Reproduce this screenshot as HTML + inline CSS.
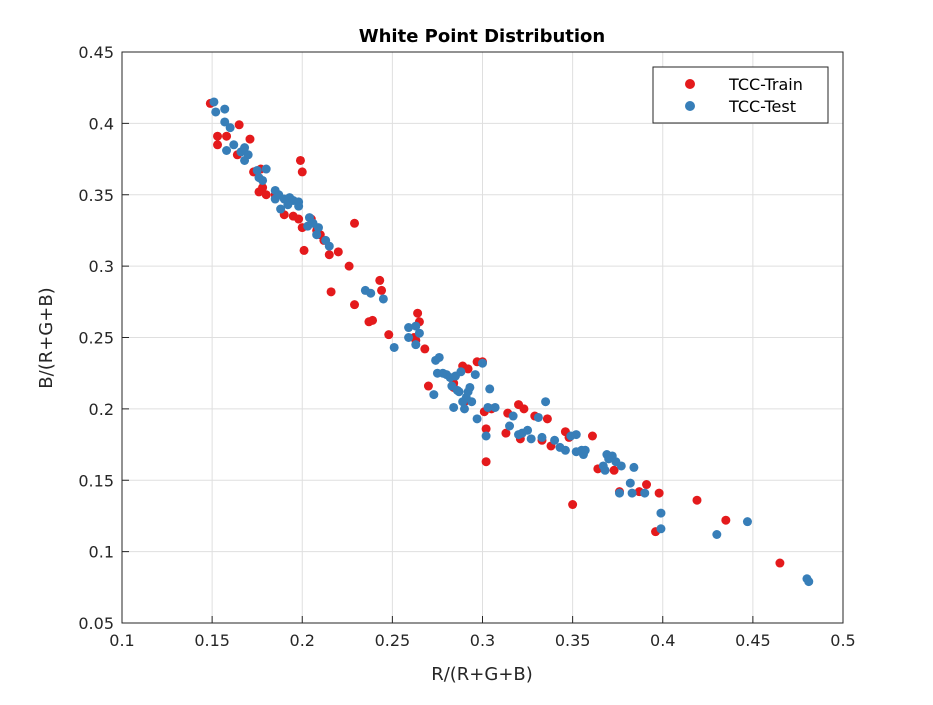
<!DOCTYPE html>
<html><head><meta charset="utf-8"><style>
body{margin:0;background:#fff;}
svg text{font-family:"DejaVu Sans","Liberation Sans",sans-serif;}
</style></head><body>
<svg id="chart" width="933" height="700" xmlns="http://www.w3.org/2000/svg">
<rect width="933" height="700" fill="#fff"/>
<g id="grid"></g>
<g id="marks"></g>
<rect x="122" y="52" width="721" height="571" fill="none" stroke="#262626" stroke-width="1"/>
<g id="ticks"></g>
<text x="482" y="42" text-anchor="middle" font-size="18" font-weight="bold" fill="#000">White Point Distribution</text>
<text x="482" y="680" text-anchor="middle" font-size="18" fill="#262626">R/(R+G+B)</text>
<text transform="translate(52,338) rotate(-90)" text-anchor="middle" font-size="18" fill="#262626">B/(R+G+B)</text>
<g>
<rect x="653" y="67" width="175" height="56" fill="#fff" stroke="#262626" stroke-width="1"/>
<g><circle cx="690" cy="84" r="5" fill="#e41a1c"/><text x="729" y="90" font-size="16" fill="#000">TCC-Train</text></g>
<g><circle cx="690" cy="106" r="5" fill="#377eb8"/><text x="729" y="112" font-size="16" fill="#000">TCC-Test</text></g>
</g>
</svg>
<script>
const xTicks=[0.1,0.15,0.2,0.25,0.3,0.35,0.4,0.45,0.5];
const xTickLabels=["0.1","0.15","0.2","0.25","0.3","0.35","0.4","0.45","0.5"];
const yTicks=[0.05,0.1,0.15,0.2,0.25,0.3,0.35,0.4,0.45];
const yTickLabels=["0.05","0.1","0.15","0.2","0.25","0.3","0.35","0.4","0.45"];
const trainX=[0.149,0.153,0.153,0.158,0.165,0.164,0.171,0.173,0.176,0.177,0.178,0.18,0.185,0.19,0.195,0.198,0.199,0.2,0.2,0.201,0.205,0.208,0.21,0.212,0.215,0.216,0.22,0.226,0.229,0.229,0.237,0.239,0.243,0.244,0.248,0.262,0.263,0.264,0.265,0.268,0.27,0.284,0.289,0.292,0.297,0.3,0.301,0.302,0.302,0.313,0.314,0.32,0.321,0.323,0.329,0.333,0.336,0.338,0.346,0.348,0.35,0.361,0.364,0.373,0.376,0.387,0.391,0.396,0.398,0.419,0.435,0.465,0.305,0.284,0.29];
const trainY=[0.414,0.391,0.385,0.391,0.399,0.378,0.389,0.366,0.352,0.368,0.355,0.35,0.35,0.336,0.335,0.333,0.374,0.366,0.327,0.311,0.333,0.325,0.322,0.318,0.308,0.282,0.31,0.3,0.33,0.273,0.261,0.262,0.29,0.283,0.252,0.25,0.248,0.267,0.261,0.242,0.216,0.218,0.23,0.228,0.233,0.233,0.198,0.186,0.163,0.183,0.197,0.203,0.179,0.2,0.195,0.178,0.193,0.174,0.184,0.18,0.133,0.181,0.158,0.157,0.142,0.142,0.147,0.114,0.141,0.136,0.122,0.092,0.2,0.215,0.205];
const testX=[0.151,0.152,0.157,0.157,0.158,0.16,0.162,0.166,0.168,0.168,0.17,0.175,0.176,0.178,0.18,0.185,0.185,0.187,0.188,0.19,0.192,0.193,0.195,0.198,0.198,0.203,0.204,0.206,0.208,0.209,0.213,0.215,0.235,0.238,0.245,0.251,0.259,0.259,0.263,0.263,0.265,0.273,0.274,0.275,0.276,0.278,0.28,0.282,0.283,0.284,0.285,0.286,0.287,0.288,0.289,0.29,0.291,0.292,0.293,0.294,0.296,0.297,0.3,0.302,0.303,0.304,0.307,0.315,0.317,0.32,0.322,0.325,0.327,0.331,0.333,0.335,0.34,0.343,0.346,0.349,0.352,0.352,0.355,0.356,0.357,0.367,0.368,0.369,0.37,0.372,0.374,0.376,0.377,0.382,0.383,0.384,0.39,0.399,0.399,0.43,0.447,0.48,0.481];
const testY=[0.415,0.408,0.41,0.401,0.381,0.397,0.385,0.38,0.374,0.383,0.378,0.367,0.362,0.36,0.368,0.353,0.347,0.35,0.34,0.347,0.343,0.348,0.346,0.345,0.342,0.328,0.334,0.33,0.322,0.327,0.318,0.314,0.283,0.281,0.277,0.243,0.257,0.25,0.258,0.245,0.253,0.21,0.234,0.225,0.236,0.225,0.224,0.222,0.216,0.201,0.223,0.213,0.212,0.226,0.205,0.2,0.208,0.212,0.215,0.205,0.224,0.193,0.232,0.181,0.201,0.214,0.201,0.188,0.195,0.182,0.183,0.185,0.179,0.194,0.18,0.205,0.178,0.173,0.171,0.181,0.182,0.17,0.171,0.168,0.171,0.16,0.157,0.168,0.165,0.167,0.163,0.141,0.16,0.148,0.141,0.159,0.141,0.127,0.116,0.112,0.121,0.081,0.079];

const NS="http://www.w3.org/2000/svg";
const X0=122,X1=843,Y0=623,Y1=52;
function sx(v){return X0+(v-0.1)/(0.5-0.1)*(X1-X0);}
function sy(v){return Y0-(v-0.05)/(0.45-0.05)*(Y0-Y1);}
function mk(tag,attrs){const e=document.createElementNS(NS,tag);for(const k in attrs)e.setAttribute(k,attrs[k]);return e;}
const grid=document.getElementById('grid'),ticks=document.getElementById('ticks'),marks=document.getElementById('marks');
xTicks.forEach((t,i)=>{
  const x=sx(t);
  const g=mk('line',{x1:x,x2:x,y1:Y1,y2:Y0,stroke:'#dfdfdf','stroke-width':1});
  
  
  grid.appendChild(g);
  const tk=mk('line',{x1:x,x2:x,y1:Y0,y2:Y0-7,stroke:'#262626'});
  
  
  ticks.appendChild(tk);
  const lb=mk('text',{x:x,y:Y0+23,'text-anchor':'middle','font-size':16,fill:'#262626'});
  lb.textContent=xTickLabels[i];
  
  
  ticks.appendChild(lb);
});
yTicks.forEach((t,i)=>{
  const y=sy(t);
  const g=mk('line',{x1:X0,x2:X1,y1:y,y2:y,stroke:'#dfdfdf','stroke-width':1});
  
  
  grid.appendChild(g);
  const tk=mk('line',{x1:X0,x2:X0+7,y1:y,y2:y,stroke:'#262626'});
  
  
  ticks.appendChild(tk);
  const lb=mk('text',{x:X0-8,y:y+6,'text-anchor':'end','font-size':16,fill:'#262626'});
  lb.textContent=yTickLabels[i];
  
  
  ticks.appendChild(lb);
});
trainX.forEach((v,i)=>{
  const c=mk('circle',{cx:sx(v),cy:sy(trainY[i]),r:4.5,fill:'#e41a1c'});
  
  
  marks.appendChild(c);
});
testX.forEach((v,i)=>{
  const c=mk('circle',{cx:sx(v),cy:sy(testY[i]),r:4.5,fill:'#377eb8'});
  
  
  marks.appendChild(c);
});
</script>
</body></html>
